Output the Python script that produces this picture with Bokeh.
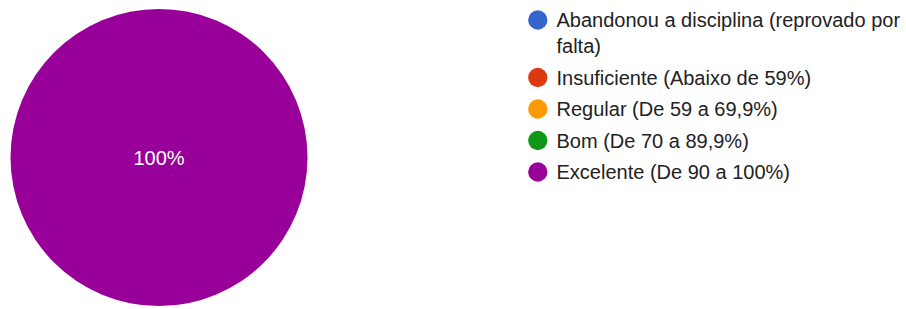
import math
from bokeh.plotting import figure
from bokeh.models import Range1d
from bokeh.core.properties import value
from bokeh.embed import file_html
from bokeh.resources import INLINE

categories = [
    "Abandonou a disciplina (reprovado por\nfalta)",
    "Insuficiente (Abaixo de 59%)",
    "Regular (De 59 a 69,9%)",
    "Bom (De 70 a 89,9%)",
    "Excelente (De 90 a 100%)",
]
values = [0, 0, 0, 0, 100]
colors = ["#3366cc", "#dc3912", "#ff9900", "#109618", "#990099"]

W, H = 906, 309
FONT = "Liberation Sans"

p = figure(width=W, height=H, output_backend="svg", toolbar_location=None,
           x_range=Range1d(0, W), y_range=Range1d(0, H), min_border=0)
p.axis.visible = False
p.grid.visible = False
p.outline_line_color = None
p.background_fill_color = "white"

# pie
cx, cy, r = 158.5, 152.0, 148.5
total = sum(values)
starts, ends, wcol, lx, ly, ltxt = [], [], [], [], [], []
full_col = []
cum = 0.0
for v, c in zip(values, colors):
    frac = v / total
    if frac > 0:
        a0 = math.pi / 2 - cum * 2 * math.pi
        a1 = math.pi / 2 - (cum + frac) * 2 * math.pi
        mid = (a0 + a1) / 2
        if frac >= 0.999:
            full_col.append(c)
            d = 0
        else:
            starts.append(a0)
            ends.append(a1)
            wcol.append(c)
            d = 0.6 * r
        lx.append(cx + d * math.cos(mid))
        ly.append(cy + d * math.sin(mid))
        ltxt.append(f"{round(frac * 100)}%")
    cum += frac

if starts:
    p.wedge(x=cx, y=cy, radius=r, start_angle=starts, end_angle=ends,
            direction="clock", fill_color=wcol, line_color="white", line_width=1)
if full_col:
    p.circle(x=[cx] * len(full_col), y=[cy] * len(full_col), radius=r,
             fill_color=full_col, line_color=None)
p.text(x=lx, y=ly, text=ltxt, text_color="white", text_font=value(FONT),
       text_font_size="20px", text_align="center", text_baseline="middle")

# legend
dot_x, txt_x = 537.3, 556
y0 = H - 19.5
line_h, gap = 26.0, 31.5
dx, dy, dc, tx, ty, tt = [], [], [], [], [], []
y = y0
for cat, c in zip(categories, colors):
    lines = cat.split("\n")
    dx.append(dot_x); dy.append(y); dc.append(c)
    for i, ln in enumerate(lines):
        tx.append(txt_x); ty.append(y - i * line_h); tt.append(ln)
    y -= (len(lines) - 1) * line_h + gap

p.scatter(x=dx, y=dy, size=19.3, fill_color=dc, line_color=None)
p.text(x=tx, y=ty, text=tt, text_color="#222222", text_font=value(FONT),
       text_font_size="20px", text_align="left", text_baseline="middle")

open("out.html", "w").write(file_html(p, INLINE))
